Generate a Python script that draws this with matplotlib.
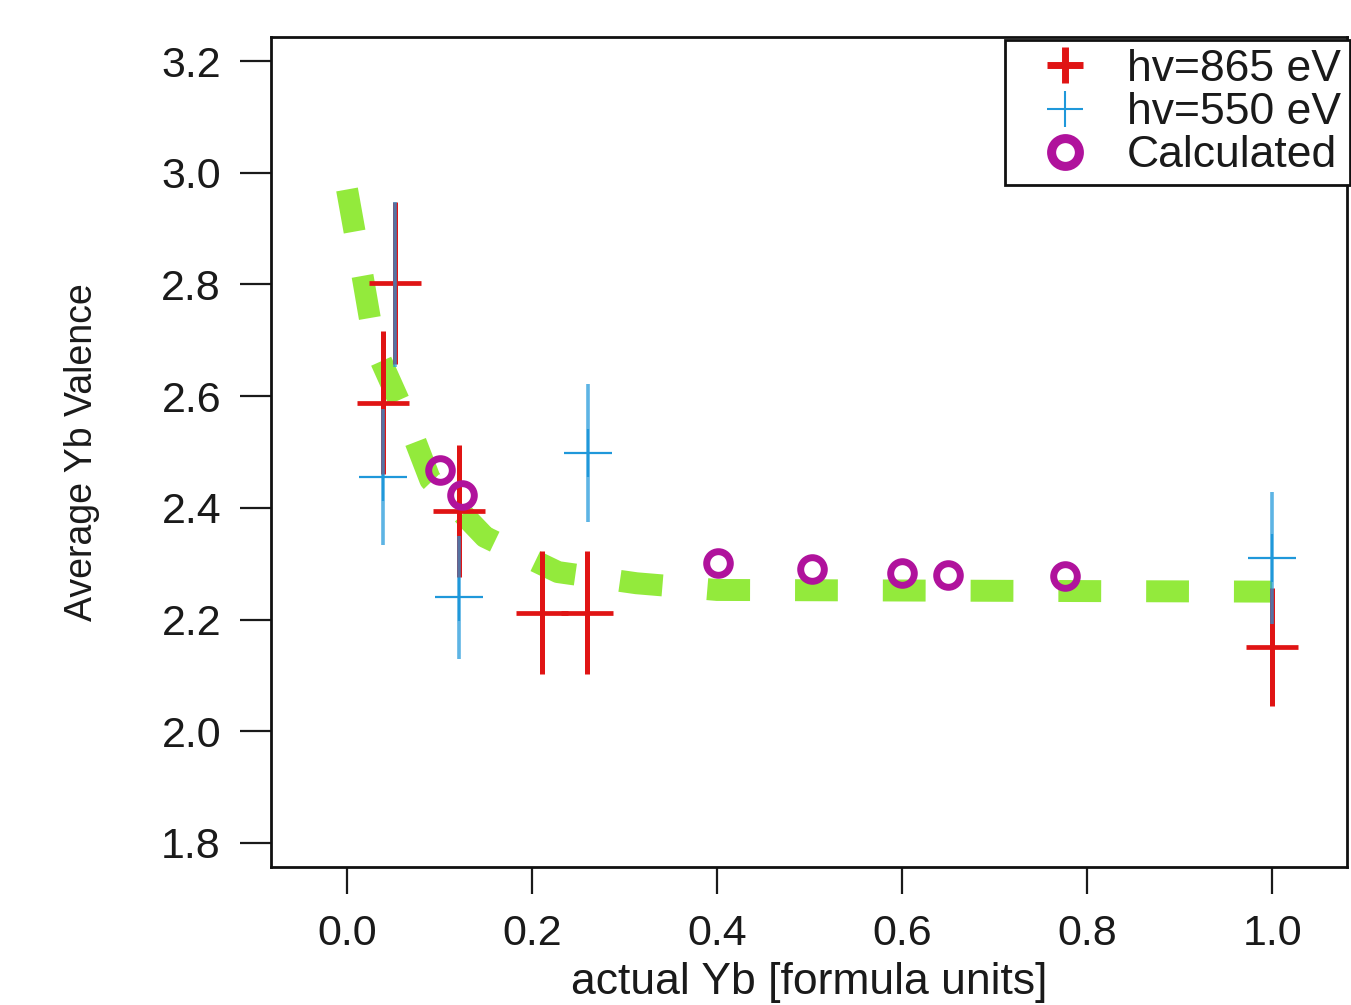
import matplotlib.pyplot as plt
from matplotlib.ticker import FormatStrFormatter

# hv=865 eV
x_865 = [0.039, 0.052, 0.121, 0.211, 0.259, 1.0]
y_865 = [2.588, 2.803, 2.394, 2.212, 2.212, 2.151]
e_865 = [0.128, 0.145, 0.118, 0.11, 0.11, 0.105]

# hv=550 eV
x_550 = [0.039, 0.052, 0.121, 0.26, 1.0]
y_550 = [2.455, 2.80, 2.24, 2.498, 2.31]
e_550 = [0.122, 0.148, 0.11, 0.123, 0.118]

# calculated
x_calc = [0.10, 0.124, 0.401, 0.503, 0.60, 0.65, 0.776]
y_calc = [2.468, 2.423, 2.301, 2.290, 2.283, 2.280, 2.278]

# green guide curve
x_curve = [0.0, 0.017, 0.030, 0.063, 0.090, 0.149, 0.228, 0.313, 0.40, 1.0]
y_curve = [2.97, 2.813, 2.688, 2.566, 2.45, 2.348, 2.285, 2.265, 2.253, 2.25]

c_red = '#e01414'
c_blue = '#1f98da'
c_green = '#93ea3c'
c_mag = '#b0129c'

plt.rcParams['font.family'] = ['Liberation Sans', 'DejaVu Sans']

fig = plt.figure(figsize=(13.51, 10.05), dpi=100)
ax = fig.add_axes([271/1351, 1-867/1005, (1347-271)/1351, (867-37)/1005])

ax.plot(x_curve, y_curve, color=c_green, lw=15.8, dashes=(1.95, 2.05),
        dash_capstyle='butt', zorder=1)

# blue markers first, red on top of them
ax.plot(x_550, y_550, ls='none', marker='+', ms=35, mew=1.6, color=c_blue,
        zorder=2, label='hv=550 eV')
ax.errorbar(x_865, y_865, yerr=e_865, fmt='none', ecolor=c_red, elinewidth=3.6,
            capsize=0, zorder=3)
ax.plot(x_865, y_865, ls='none', marker='+', ms=37, mew=3.4, color=c_red,
        zorder=4, label='hv=865 eV')
ax.errorbar(x_550, y_550, yerr=e_550, fmt='none', ecolor=c_blue, elinewidth=2.6,
            capsize=0, alpha=0.72, zorder=5)
ax.plot(x_calc, y_calc, ls='none', marker='o', ms=17, mew=5, mec=c_mag,
        mfc='none', zorder=6, label='Calculated')

ax.set_xlim(-0.0822, 1.081)
ax.set_ylim(1.757, 3.243)
ax.set_xticks([0.0, 0.2, 0.4, 0.6, 0.8, 1.0])
ax.set_yticks([1.8, 2.0, 2.2, 2.4, 2.6, 2.8, 3.0, 3.2])
ax.xaxis.set_major_formatter(FormatStrFormatter('%.1f'))
ax.yaxis.set_major_formatter(FormatStrFormatter('%.1f'))
ax.tick_params(axis='y', direction='out', length=22, width=1.6, pad=14,
               labelsize=31, colors='#1a1a1a')
ax.tick_params(axis='x', direction='out', length=19.5, width=1.6, pad=14,
               labelsize=31, colors='#1a1a1a')
for s in ax.spines.values():
    s.set_linewidth(2)
    s.set_color('#111111')

ax.set_xlabel('actual Yb [formula units]', fontsize=32, color='#1a1a1a', labelpad=6)
ax.set_ylabel('Average Yb Valence', fontsize=27, color='#1a1a1a', labelpad=44)

h, l = ax.get_legend_handles_labels()
order = [1, 0, 2]
leg = ax.legend([h[i] for i in order], [l[i] for i in order],
                loc='upper left', bbox_to_anchor=(1005/1351, 1-40/1005),
                bbox_transform=fig.transFigure, fontsize=32, frameon=True,
                fancybox=False, edgecolor='#111111', framealpha=1,
                labelspacing=0.05, handlelength=2.3, handletextpad=0.25,
                borderpad=0.2, borderaxespad=0)
leg.get_frame().set_linewidth(2)
leg.set_zorder(10)
for t in leg.get_texts():
    t.set_color('#1a1a1a')
lh = leg.legend_handles
lh[0].set_markersize(26)
lh[0].set_markeredgewidth(5)
lh[1].set_markersize(26)
lh[1].set_markeredgewidth(1.5)
lh[2].set_markersize(20)
lh[2].set_markeredgewidth(6.5)

fig.savefig('out.png', dpi=100)
